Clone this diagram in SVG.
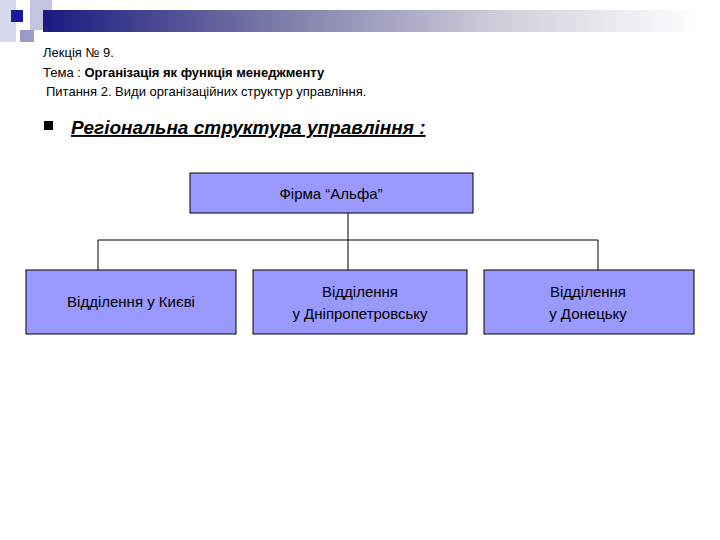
<svg xmlns="http://www.w3.org/2000/svg" width="720" height="540" viewBox="0 0 720 540">
<defs>
<linearGradient id="bar" x1="0" x2="1" y1="0" y2="0">
<stop offset="0" stop-color="#1a1a80"/>
<stop offset="0.35" stop-color="#7a7aa8"/>
<stop offset="0.7" stop-color="#d0d0dc"/>
<stop offset="1" stop-color="#ffffff"/>
</linearGradient>
<style>
text{font-family:"Liberation Sans",Arial,sans-serif;fill:#000}
.box{fill:#9999ff;stroke:#000;stroke-width:1}
.ln{stroke:#000;stroke-width:1;fill:none}
.t{font-size:15px;text-anchor:middle}
</style>
</defs>
<rect x="0" y="0" width="16" height="42" fill="#d8d8ec"/>
<rect x="30" y="0" width="22" height="30" fill="#c4c4e0"/>
<rect x="43" y="10" width="660" height="22" fill="url(#bar)"/>
<rect x="11" y="10" width="12" height="12" fill="#1a1aa0"/>
<rect x="20" y="30" width="14" height="12" fill="#9a9ac8"/>
<text x="43" y="57" font-size="13">Лекція № 9.</text>
<text x="43" y="77" font-size="13">Тема : <tspan font-weight="bold">Організація як функція менеджменту</tspan></text>
<text x="46" y="96" font-size="13">Питання 2. Види організаційних структур управління.</text>
<rect x="44" y="121" width="9" height="9" fill="#000"/>
<text x="71" y="134" font-size="19" font-style="italic" font-weight="bold" text-decoration="underline">Регіональна структура управління :</text>
<g id="connectors">
<path class="ln" d="M348 213V240M98 240H598M98 240V270M348 240V270M598 240V270"/>
</g>
<g id="alfa"><rect class="box" x="190" y="173" width="283" height="40"/><text class="t" x="331" y="199">Фірма “Альфа”</text></g>
<g id="kyiv"><rect class="box" x="26" y="270" width="210" height="64"/><text class="t" x="131" y="307">Відділення у Києві</text></g>
<g id="dnipro"><rect class="box" x="253" y="270" width="214" height="64"/><text class="t" x="360" y="297">Відділення</text><text class="t" x="360" y="319">у Дніпропетровську</text></g>
<g id="donetsk"><rect class="box" x="484" y="270" width="210" height="64"/><text class="t" x="588" y="297">Відділення</text><text class="t" x="588" y="319">у Донецьку</text></g>
</svg>
